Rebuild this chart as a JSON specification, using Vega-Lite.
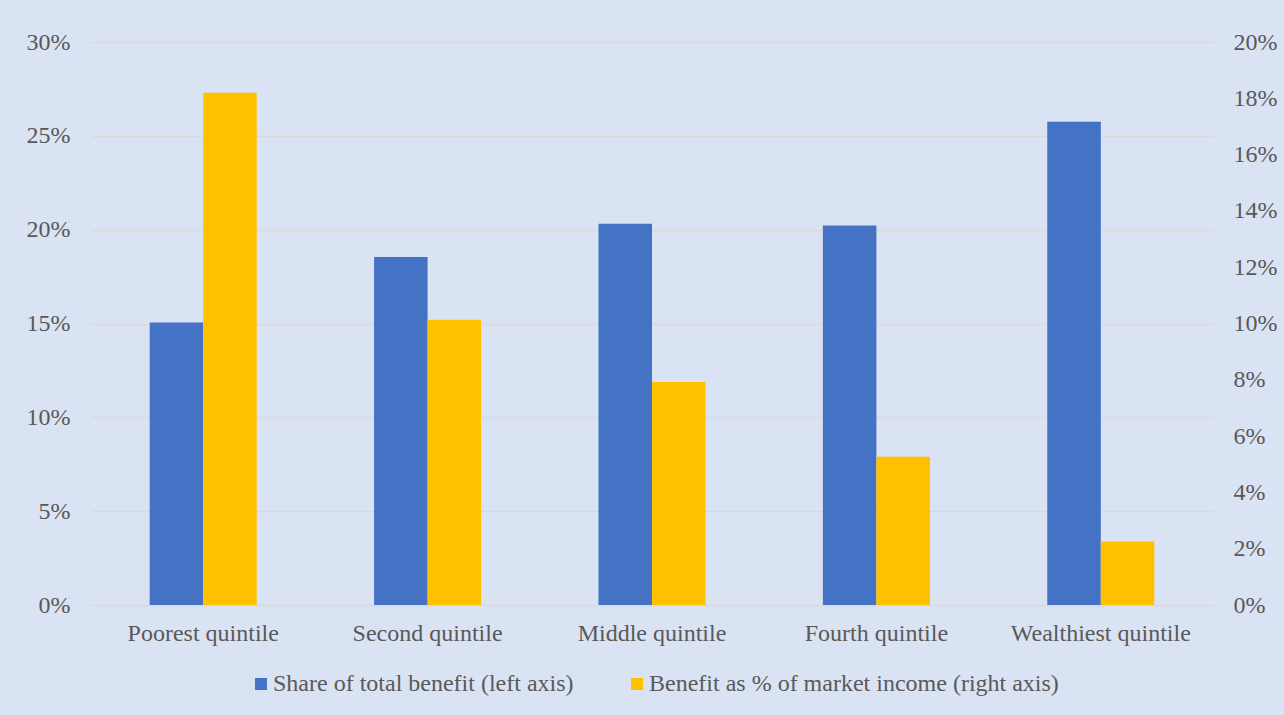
{
  "$schema": "https://vega.github.io/schema/vega-lite/v6.json",
  "width": 1122,
  "height": 563,
  "autosize": {"type": "none"},
  "padding": {"left": 91, "top": 42, "right": 71, "bottom": 110},
  "background": "#dae3f3",
  "data": {
    "values": [
      {"quintile": "Poorest quintile", "series": "Share of total benefit (left axis)", "value": 0.1505},
      {"quintile": "Poorest quintile", "series": "Benefit as % of market income (right axis)", "value": 0.182},
      {"quintile": "Second quintile", "series": "Share of total benefit (left axis)", "value": 0.1855},
      {"quintile": "Second quintile", "series": "Benefit as % of market income (right axis)", "value": 0.1013},
      {"quintile": "Middle quintile", "series": "Share of total benefit (left axis)", "value": 0.2032},
      {"quintile": "Middle quintile", "series": "Benefit as % of market income (right axis)", "value": 0.0792},
      {"quintile": "Fourth quintile", "series": "Share of total benefit (left axis)", "value": 0.2022},
      {"quintile": "Fourth quintile", "series": "Benefit as % of market income (right axis)", "value": 0.0527},
      {"quintile": "Wealthiest quintile", "series": "Share of total benefit (left axis)", "value": 0.2575},
      {"quintile": "Wealthiest quintile", "series": "Benefit as % of market income (right axis)", "value": 0.0226}
    ]
  },
  "encoding": {
    "x": {
      "field": "quintile",
      "type": "nominal",
      "sort": null,
      "title": null,
      "scale": {"paddingInner": 0.523, "paddingOuter": 0.2615},
      "axis": {
        "labelAngle": 0,
        "labelFont": "Times New Roman, Liberation Serif, serif",
        "labelFontSize": 24,
        "labelColor": "#595959",
        "labelPadding": 16,
        "labelLimit": 400,
        "ticks": false,
        "domain": false,
        "grid": false
      }
    },
    "xOffset": {
      "field": "series",
      "type": "nominal",
      "scale": {
        "domain": ["Share of total benefit (left axis)", "Benefit as % of market income (right axis)"],
        "paddingInner": 0,
        "paddingOuter": 0
      }
    },
    "color": {
      "field": "series",
      "type": "nominal",
      "scale": {
        "domain": ["Share of total benefit (left axis)", "Benefit as % of market income (right axis)"],
        "range": ["#4472c4", "#ffc000"]
      },
      "legend": {
        "title": null,
        "orient": "none",
        "legendX": 158,
        "legendY": 630,
        "direction": "horizontal",
        "symbolType": "square",
        "symbolSize": 144,
        "symbolStrokeWidth": 0,
        "labelFont": "Times New Roman, Liberation Serif, serif",
        "labelFontSize": 24,
        "labelColor": "#595959",
        "labelOffset": 0,
        "columnPadding": 51,
        "labelLimit": 600
      }
    }
  },
  "layer": [
    {
      "transform": [{"filter": "datum.series === 'Share of total benefit (left axis)'"}],
      "mark": {"type": "bar"},
      "encoding": {
        "y": {
          "field": "value",
          "type": "quantitative",
          "title": null,
          "scale": {"domain": [0, 0.3], "nice": false},
          "axis": {
            "orient": "left",
            "values": [0, 0.05, 0.1, 0.15, 0.2, 0.25, 0.3],
            "format": ".0%",
            "labelFont": "Times New Roman, Liberation Serif, serif",
            "labelFontSize": 24,
            "labelColor": "#595959",
            "labelPadding": 21,
            "ticks": false,
            "domain": false,
            "grid": true,
            "gridColor": "#d9d9d9",
            "gridWidth": 1.3
          }
        }
      }
    },
    {
      "transform": [{"filter": "datum.series === 'Benefit as % of market income (right axis)'"}],
      "mark": {"type": "bar"},
      "encoding": {
        "y": {
          "field": "value",
          "type": "quantitative",
          "title": null,
          "scale": {"domain": [0, 0.2], "nice": false},
          "axis": {
            "orient": "right",
            "values": [0, 0.02, 0.04, 0.06, 0.08, 0.1, 0.12, 0.14, 0.16, 0.18, 0.2],
            "format": ".0%",
            "labelFont": "Times New Roman, Liberation Serif, serif",
            "labelFontSize": 24,
            "labelColor": "#595959",
            "labelPadding": 20,
            "ticks": false,
            "domain": false,
            "grid": false
          }
        }
      }
    }
  ],
  "resolve": {"scale": {"y": "independent"}},
  "config": {"view": {"stroke": null}}
}
